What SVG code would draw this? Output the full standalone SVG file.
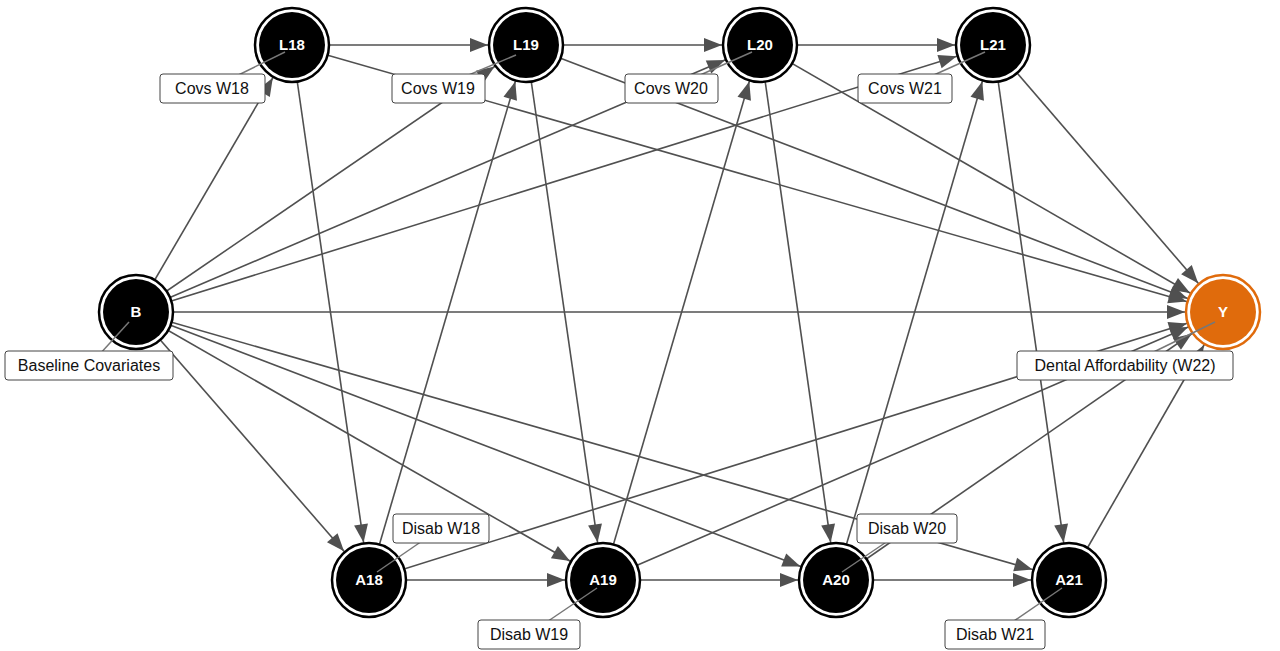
<svg xmlns="http://www.w3.org/2000/svg" width="1280" height="651" viewBox="0 0 1280 651">
<style>
.e{stroke:#505050;stroke-width:1.6;fill:none;marker-end:url(#ah)}
.n .o{fill:#fff;stroke:#000;stroke-width:2.5}
.n .i{fill:#000}
.t{font-family:"Liberation Sans",Arial,sans-serif;font-weight:bold;font-size:15px;fill:#fff;text-anchor:middle}
.lb rect{fill:#fff;stroke:#444;stroke-width:1;rx:3}
.lb text{font-family:"Liberation Sans",Arial,sans-serif;font-size:16px;fill:#111;text-anchor:middle}
.ld{stroke:#777;stroke-width:1.5}
</style>
<defs>
<marker id="ah" markerUnits="userSpaceOnUse" markerWidth="80" markerHeight="20" viewBox="0 -10 80 20" refX="56" refY="0" orient="auto" overflow="visible">
<path d="M0,-7 L18,0 L0,7 z" fill="#505050"/>
</marker>
</defs>
<rect width="1280" height="651" fill="#fff"/>
<g id="connectors">
<line class="e" x1="292" y1="45" x2="526" y2="45"/>
<line class="e" x1="526" y1="45" x2="760" y2="45"/>
<line class="e" x1="760" y1="45" x2="993" y2="45"/>
<line class="e" x1="369" y1="580" x2="603" y2="580"/>
<line class="e" x1="603" y1="580" x2="836" y2="580"/>
<line class="e" x1="836" y1="580" x2="1069" y2="580"/>
<line class="e" x1="292" y1="45" x2="1223" y2="312"/>
<line class="e" x1="526" y1="45" x2="1223" y2="312"/>
<line class="e" x1="760" y1="45" x2="1223" y2="312"/>
<line class="e" x1="993" y1="45" x2="1223" y2="312"/>
<line class="e" x1="292" y1="45" x2="369" y2="580"/>
<line class="e" x1="526" y1="45" x2="603" y2="580"/>
<line class="e" x1="760" y1="45" x2="836" y2="580"/>
<line class="e" x1="993" y1="45" x2="1069" y2="580"/>
<line class="e" x1="369" y1="580" x2="526" y2="45"/>
<line class="e" x1="603" y1="580" x2="760" y2="45"/>
<line class="e" x1="836" y1="580" x2="993" y2="45"/>
<line class="e" x1="136" y1="312" x2="292" y2="45"/>
<line class="e" x1="136" y1="312" x2="526" y2="45"/>
<line class="e" x1="136" y1="312" x2="760" y2="45"/>
<line class="e" x1="136" y1="312" x2="993" y2="45"/>
<line class="e" x1="136" y1="312" x2="1223" y2="312"/>
<line class="e" x1="136" y1="312" x2="369" y2="580"/>
<line class="e" x1="136" y1="312" x2="603" y2="580"/>
<line class="e" x1="136" y1="312" x2="836" y2="580"/>
<line class="e" x1="136" y1="312" x2="1069" y2="580"/>
<line class="e" x1="369" y1="580" x2="1223" y2="312"/>
<line class="e" x1="603" y1="580" x2="1223" y2="312"/>
<line class="e" x1="836" y1="580" x2="1223" y2="312"/>
<line class="e" x1="1069" y1="580" x2="1223" y2="312"/>
</g>
<g id="L18" class="n"><circle class="o" cx="292" cy="45" r="37"/><circle class="i" cx="292" cy="45" r="33"/><text class="t" x="292" y="50">L18</text></g>
<g id="L19" class="n"><circle class="o" cx="526" cy="45" r="37"/><circle class="i" cx="526" cy="45" r="33"/><text class="t" x="526" y="50">L19</text></g>
<g id="L20" class="n"><circle class="o" cx="760" cy="45" r="37"/><circle class="i" cx="760" cy="45" r="33"/><text class="t" x="760" y="50">L20</text></g>
<g id="L21" class="n"><circle class="o" cx="993" cy="45" r="37"/><circle class="i" cx="993" cy="45" r="33"/><text class="t" x="993" y="50">L21</text></g>
<g id="B" class="n"><circle class="o" cx="136" cy="312" r="37"/><circle class="i" cx="136" cy="312" r="33"/><text class="t" x="136" y="317">B</text></g>
<g id="Y" class="n"><circle cx="1223" cy="312" r="37" fill="#fff" stroke="#e06b0c" stroke-width="2.5"/><circle cx="1223" cy="312" r="33" fill="#e06b0c"/><text class="t" x="1223" y="317">Y</text></g>
<g id="A18" class="n"><circle class="o" cx="369" cy="580" r="37"/><circle class="i" cx="369" cy="580" r="33"/><text class="t" x="369" y="585">A18</text></g>
<g id="A19" class="n"><circle class="o" cx="603" cy="580" r="37"/><circle class="i" cx="603" cy="580" r="33"/><text class="t" x="603" y="585">A19</text></g>
<g id="A20" class="n"><circle class="o" cx="836" cy="580" r="37"/><circle class="i" cx="836" cy="580" r="33"/><text class="t" x="836" y="585">A20</text></g>
<g id="A21" class="n"><circle class="o" cx="1069" cy="580" r="37"/><circle class="i" cx="1069" cy="580" r="33"/><text class="t" x="1069" y="585">A21</text></g>
<g id="leaders">
<line class="ld" x1="212" y1="88" x2="285" y2="52"/>
<line class="ld" x1="438" y1="88" x2="516" y2="55"/>
<line class="ld" x1="671" y1="88" x2="752" y2="52"/>
<line class="ld" x1="905" y1="88" x2="985" y2="52"/>
<line class="ld" x1="89" y1="366" x2="129" y2="322"/>
<line class="ld" x1="1125" y1="366" x2="1215" y2="322"/>
<line class="ld" x1="441" y1="528" x2="377" y2="572"/>
<line class="ld" x1="529" y1="634" x2="597" y2="588"/>
<line class="ld" x1="907" y1="528" x2="842" y2="572"/>
<line class="ld" x1="995" y1="634" x2="1062" y2="588"/>
</g>
<g id="labels" class="lb">
<rect x="160" y="74" width="105" height="29"/><text x="212" y="94">Covs W18</text>
<rect x="392" y="74" width="93" height="29"/><text x="438" y="94">Covs W19</text>
<rect x="625" y="74" width="93" height="29"/><text x="671" y="94">Covs W20</text>
<rect x="858" y="74" width="94" height="29"/><text x="905" y="94">Covs W21</text>
<rect x="5" y="351" width="168" height="29"/><text x="89" y="371">Baseline Covariates</text>
<rect x="1017" y="351" width="216" height="29"/><text x="1125" y="371">Dental Affordability (W22)</text>
<rect x="393" y="514" width="96" height="29"/><text x="441" y="534">Disab W18</text>
<rect x="478" y="620" width="102" height="29"/><text x="529" y="640">Disab W19</text>
<rect x="857" y="514" width="100" height="29"/><text x="907" y="534">Disab W20</text>
<rect x="945" y="620" width="100" height="29"/><text x="995" y="640">Disab W21</text>
</g>
</svg>
